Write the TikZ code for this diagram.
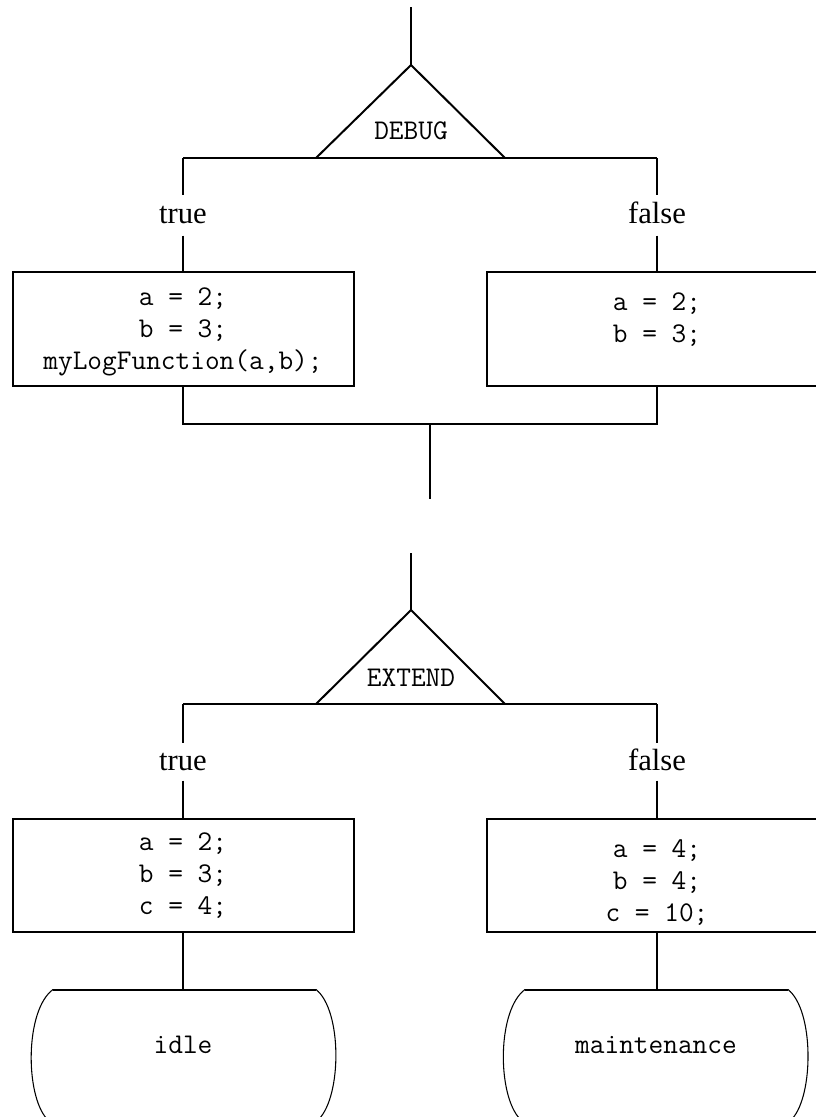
\documentclass[tikz,border=0pt]{standalone}
\usepackage{fontspec}
\setmainfont{Liberation Serif}
\begin{document}
\begin{tikzpicture}[x=0.75pt,y=-0.75pt,
  wire/.style={line width=1.5pt},
  thinwire/.style={line width=0.8pt},
  mono/.style={font=\ttfamily\fontsize{21.4}{24}\selectfont, inner sep=0pt},
  code/.style={mono, align=center},
  branch/.style={font=\fontsize{23}{27}\selectfont, inner sep=0pt},
  block/.style={draw, line width=1.5pt, inner sep=0pt, outer sep=0pt,
                minimum width=255.75pt, minimum height=85.5pt}]
\useasboundingbox (0,0) rectangle (816,1117);
\clip (0,0) rectangle (816,1117);

% ---------- DEBUG switch ----------
\coordinate (in1) at (411,7);
\coordinate (apex1) at (411,65);
\coordinate (bl1) at (316,158);
\coordinate (br1) at (505,158);
\coordinate (jl1) at (183,158);
\coordinate (jr1) at (657,158);
\draw[wire] (in1) -- (apex1);
\draw[wire, line join=miter] (bl1) -- (apex1) -- (br1);
\draw[wire] (jl1) -- (jr1);
\node[mono] (debug) at (411,131) {DEBUG};

\node[branch, text height=21pt, text depth=9pt, anchor=north] (t1) at (183,195) {true};
\node[branch, text height=21pt, text depth=9pt, anchor=north] (f1) at (657,195) {false};
\draw[wire] (jl1) -- (t1.north);
\draw[wire] (jr1) -- (f1.north);

\node[block] (b1l) at (183,329) {};
\node[block] (b1r) at (657,329) {};
\node[code] (c1l) at (183,331.5) {a = 2;\\b = 3;\\myLogFunction(a,b);};
\node[code] (c1r) at (657,319.5) {a = 2;\\b = 3;};
\draw[wire] (t1.south) -- (b1l.north);
\draw[wire] (f1.south) -- (b1r.north);

\coordinate (ml1) at (183,424);
\coordinate (mr1) at (657,424);
\coordinate (mc1) at (430,424);
\coordinate (out1) at (430,499);
\draw[wire] (b1l.south) -- (ml1) -- (mr1) -- (b1r.south);
\draw[wire] (mc1) -- (out1);

% ---------- EXTEND switch ----------
\coordinate (in2) at (411,553);
\coordinate (apex2) at (411,610);
\coordinate (bl2) at (316,704);
\coordinate (br2) at (505,704);
\coordinate (jl2) at (183,704);
\coordinate (jr2) at (657,704);
\draw[wire] (in2) -- (apex2);
\draw[wire, line join=miter] (bl2) -- (apex2) -- (br2);
\draw[wire] (jl2) -- (jr2);
\node[mono] (extend) at (411,678) {EXTEND};

\node[branch, text height=20.25pt, text depth=7.5pt, anchor=north] (t2) at (183,743) {true};
\node[branch, text height=20.25pt, text depth=7.5pt, anchor=north] (f2) at (657,743) {false};
\draw[wire] (jl2) -- (t2.north);
\draw[wire] (jr2) -- (f2.north);

\node[block, minimum height=84.75pt] (b2l) at (183,875.5) {};
\node[block, minimum height=84.75pt] (b2r) at (657,875.5) {};
\node[code] (c2l) at (183,875.5) {a = 2;\\b = 3;\\c = 4;};
\node[code] (c2r) at (657,882.5) {a = 4;\\b = 4;\\c = 10;};
\draw[wire] (t2.south) -- (b2l.north);
\draw[wire] (f2.south) -- (b2r.north);

% ---------- end states ----------
\coordinate (e1top) at (183,989.5);
\coordinate (e2top) at (657,989.5);
\draw[wire] (b2l.south) -- (e1top);
\draw[wire] (b2r.south) -- (e2top);

\draw[wire] (53,989.5) -- (316,989.5);
\draw[thinwire] (53,989.5) .. controls (25,1010) and (25,1095) .. (47,1119);
\draw[thinwire] (316,989.5) .. controls (342,1010) and (342,1095) .. (319,1119);
\node[mono] (idle) at (183,1045) {idle};

\draw[wire] (525,989.5) -- (788,989.5);
\draw[thinwire] (525,989.5) .. controls (497,1010) and (497,1095) .. (520,1119);
\draw[thinwire] (788,989.5) .. controls (814,1010) and (814,1095) .. (792,1119);
\node[mono] (maint) at (656,1045) {maintenance};
\end{tikzpicture}
\end{document}
